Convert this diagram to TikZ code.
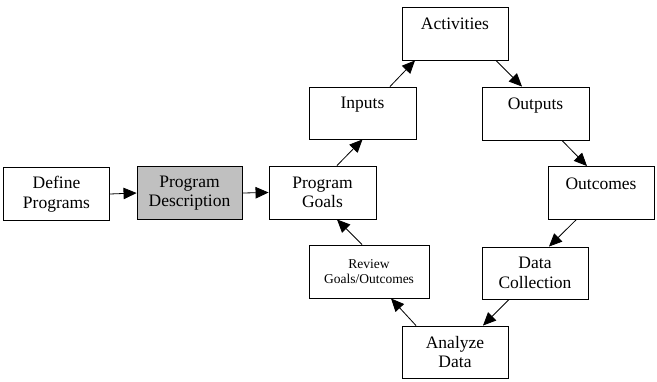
\documentclass[tikz,border=0pt]{standalone}
\usepackage{fontspec}
\setmainfont{Liberation Serif}
\usetikzlibrary{arrows.meta}
\begin{document}
\begin{tikzpicture}[x=1pt,y=-1pt,
  box/.style={draw=black,line width=0.9pt,fill=white,minimum width=106pt,minimum height=53pt,inner sep=0pt,
    align=center,font=\fontsize{17.5}{19.5}\selectfont},
  small/.style={font=\fontsize{13.5}{15}\selectfont},
  conn/.style={line width=0.8pt,-{Triangle[length=13pt,width=11.5pt]}}]
\useasboundingbox (0,0) rectangle (657,382);
\node[box] (define) at (56.5,194) {Define\\Programs};
\node[box,fill={rgb,255:red,192;green,192;blue,192},minimum width=105pt] (desc) at (189.5,193) {Program\\Description};
\node[box,minimum width=107pt] (goals) at (322.5,192.5) {Program\\Goals};
\node[box,minimum width=107pt,minimum height=52pt] (inputs) at (362.5,113) {Inputs\\~};
\node[box] (act) at (455,33.5) {Activities\\~};
\node[box,minimum width=107pt] (outputs) at (535.5,113.5) {Outputs\\~};
\node[box] (outcomes) at (601,193) {Outcomes\\~};
\node[box,minimum height=52pt] (data) at (535,273) {Data\\Collection};
\node[box,minimum height=52pt] (analyze) at (455,352) {Analyze\\Data};
\node[box,small,minimum width=120pt] (review) at (369,271.5) {Review\\Goals/Outcomes};
\draw[conn] (define.east) -- (desc.west);
\draw[conn] (desc.east) -- (goals.west);
\draw[conn] ([xshift=14.5pt]goals.north) -- (inputs.south);
\draw[conn] ([xshift=27.5pt]inputs.north) -- ([xshift=-40pt]act.south);
\draw[conn] ([xshift=41pt]act.south) -- ([xshift=-13.5pt]outputs.north);
\draw[conn] ([xshift=26.5pt]outputs.south) -- ([xshift=-14pt]outcomes.north);
\draw[conn] ([xshift=-25pt]outcomes.south) -- ([xshift=14pt]data.north);
\draw[conn] ([xshift=-26pt]data.south) -- ([xshift=28pt]analyze.north);
\draw[conn] ([xshift=-39pt]analyze.north) -- ([xshift=22pt]review.south);
\draw[conn] ([xshift=-7pt]review.north) -- ([xshift=14.5pt]goals.south);
\end{tikzpicture}
\end{document}
